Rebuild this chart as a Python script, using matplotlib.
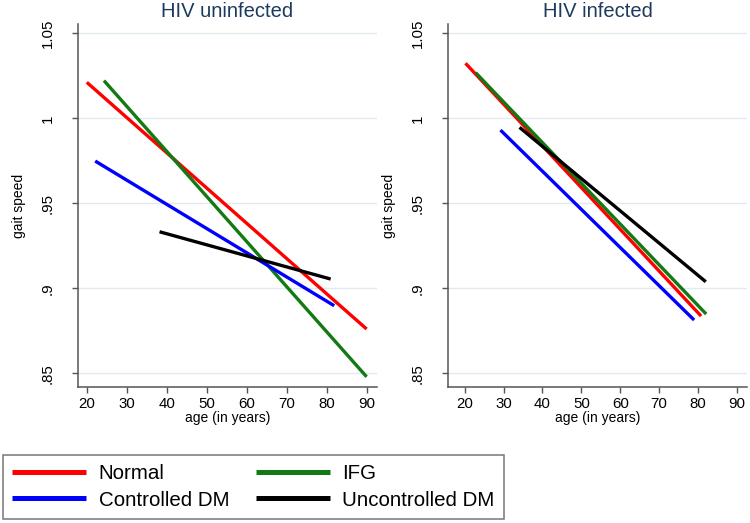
import numpy as np
import matplotlib.pyplot as plt

plt.rcParams['font.family'] = ['Liberation Sans', 'DejaVu Sans']

groups = ['Normal', 'IFG', 'Controlled DM', 'Uncontrolled DM']
colors = ['#ff0000', '#137a13', '#0000ff', '#000000']

# fitted lines: [age start, age end], [speed start, speed end]
uninf_age = [[20, 90], [24.3, 90], [22.1, 81.9], [38.2, 81.0]]
uninf_speed = [[1.0212, 0.8761], [1.0222, 0.848], [0.9749, 0.8898], [0.9333, 0.9055]]

inf_age = [[20.2, 80.8], [22.8, 82.1], [29.2, 79.0], [34.1, 82.0]]
inf_speed = [[1.0324, 0.8837], [1.0269, 0.8849], [0.9931, 0.8814], [0.9947, 0.9039]]

yticks = [0.85, 0.9, 0.95, 1.0, 1.05]
ytick_labels = ['.85', '.9', '.95', '1', '1.05']
xticks = [20, 30, 40, 50, 60, 70, 80, 90]

fig = plt.figure(figsize=(7.5, 5.23), dpi=100)
ax1 = fig.add_axes([78 / 750, 1 - 387 / 523, 299 / 750, 363 / 523])
ax2 = fig.add_axes([448 / 750, 1 - 387 / 523, 299 / 750, 363 / 523])

panels = [(ax1, 'HIV uninfected', uninf_age, uninf_speed, (17.8, 92.6)),
          (ax2, 'HIV infected', inf_age, inf_speed, (15.7, 92.6))]

handles = {}
for ax, title, ages, speeds, xlim in panels:
    for g, c, a, s in zip(groups, colors, ages, speeds):
        h, = ax.plot(a, s, color=c, lw=2.4, solid_capstyle='butt', label=g)
        handles[g] = h
    ax.set_xlim(*xlim)
    ax.set_ylim(0.842, 1.0555)
    ax.set_yticks(yticks)
    ax.set_yticklabels(ytick_labels, rotation=90, va='center')
    ax.set_xticks(xticks)
    ax.grid(axis='y', color='#e1eaef', lw=1)
    ax.set_axisbelow(True)
    for side in ['top', 'right']:
        ax.spines[side].set_visible(False)
    for side in ['left', 'bottom']:
        ax.spines[side].set_color('#555555')
        ax.spines[side].set_linewidth(1.1)
    ax.tick_params(direction='out', length=4.5, width=1, color='#555555',
                   labelsize=10.8, labelcolor='#000000')
    ax.tick_params(axis='y', pad=12)
    ax.tick_params(axis='x', pad=3)
    ax.set_title(title, fontsize=14.5, color='#1d3a5e', pad=5)
    ax.set_xlabel('age (in years)', fontsize=10, labelpad=0)
    ax.set_ylabel('gait speed', fontsize=10, labelpad=11)

order = ['Normal', 'Controlled DM', 'IFG', 'Uncontrolled DM']
leg = fig.legend([handles[g] for g in order], order, ncol=2,
                 loc='lower left', bbox_to_anchor=(0.004, 0.008),
                 borderaxespad=0, fontsize=14.8, handlelength=3.6,
                 handletextpad=0.6, columnspacing=1.3, labelspacing=0.35,
                 borderpad=0.45, frameon=True, fancybox=False,
                 edgecolor='#555555')
leg.get_frame().set_linewidth(1.1)
for line in leg.get_lines():
    line.set_linewidth(3.6)

fig.savefig('out.png', dpi=100)
